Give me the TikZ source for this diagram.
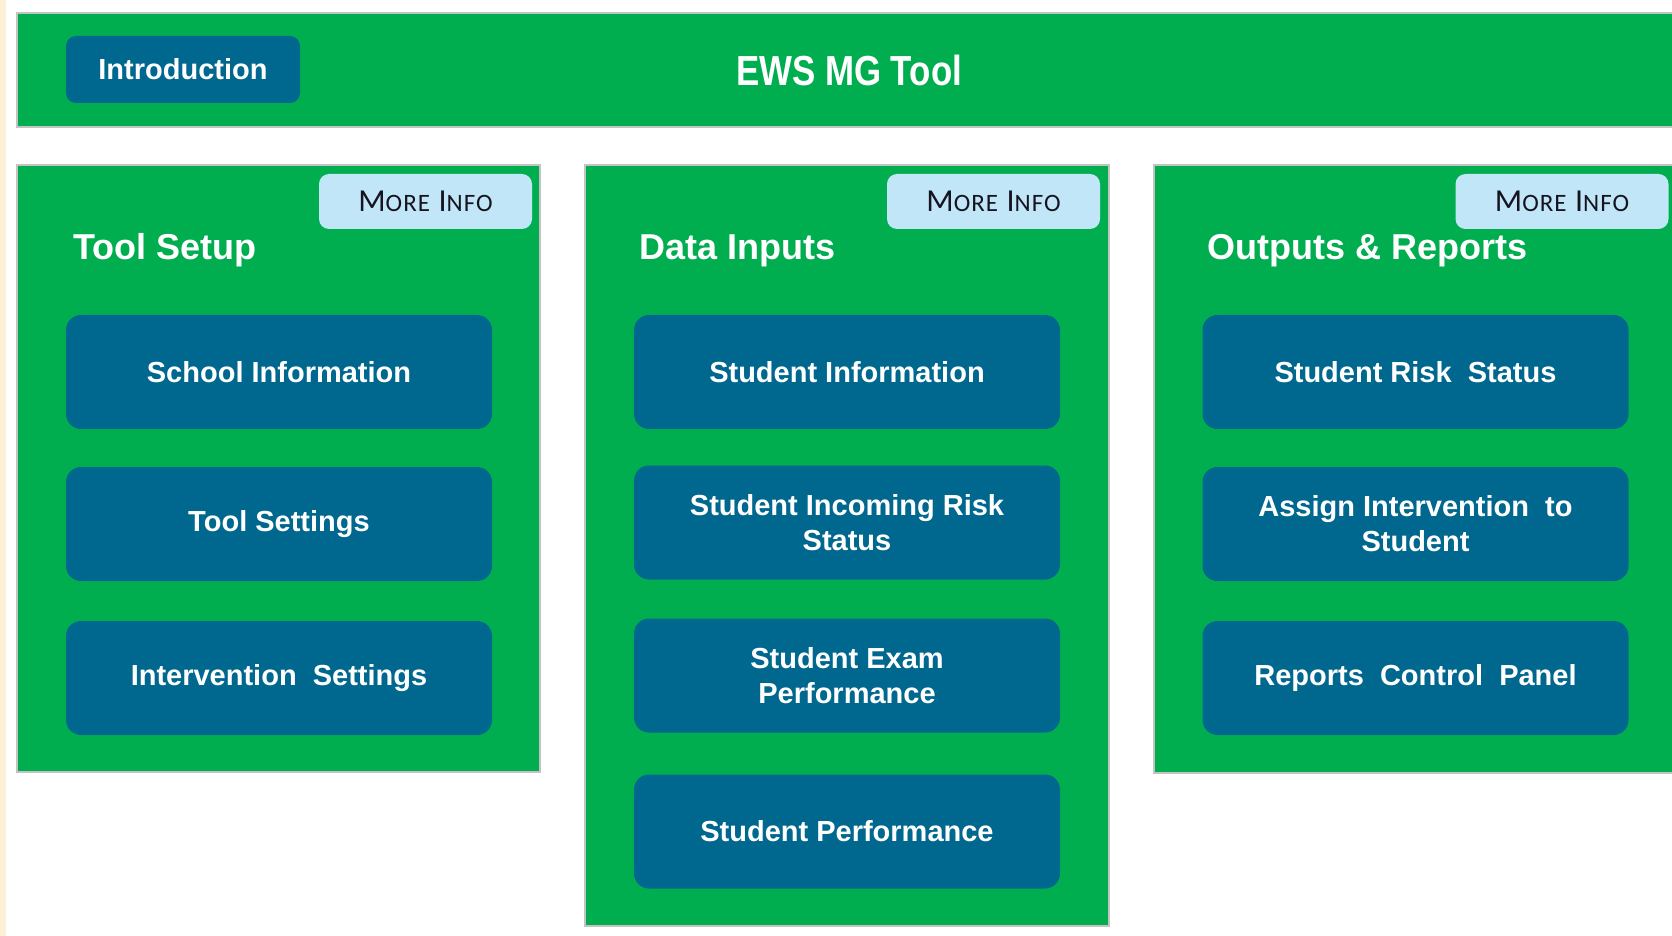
\documentclass[tikz,border=0pt]{standalone}
\usepackage{fontspec}
\setmainfont{Liberation Sans}
\newfontfamily\narrowfont[FakeStretch=0.83]{Liberation Sans}
\newfontfamily\infofont[LetterSpace=4]{Carlito}
\definecolor{ewsgreen}{RGB}{0,174,80}
\definecolor{ewsblue}{RGB}{0,104,143}
\definecolor{infoblue}{RGB}{192,230,248}
\definecolor{infotext}{RGB}{22,20,32}
\definecolor{edgegray}{RGB}{195,195,195}
\definecolor{cream}{RGB}{253,240,215}
\newcommand{\moreinfo}{\infofont\fontsize{16}{18}\selectfont M\fontsize{12.5}{14}\selectfont ORE\fontsize{16}{18}\selectfont\ I\fontsize{12.5}{14}\selectfont NFO}

\begin{document}
\begin{tikzpicture}[x=0.5pt, y=-0.5pt]
    \tikzstyle{panel}=[rectangle, fill=ewsgreen, draw=edgegray, line width=0.6pt, inner sep=0pt]
    \tikzstyle{btn}=[rectangle, rounded corners=7.5pt, fill=ewsblue, text=white, align=center, font=\fontsize{14.5}{17.5}\selectfont\bfseries, minimum width=213pt, minimum height=57pt, inner sep=0pt]
    \tikzstyle{info}=[rectangle, rounded corners=5pt, fill=infoblue, text=infotext, minimum width=106.5pt, minimum height=27.5pt, inner sep=0pt]
    \tikzstyle{head}=[anchor=base west, text=white, font=\fontsize{18}{21}\selectfont\bfseries, inner sep=0pt]

    \useasboundingbox (0,0) rectangle (1672,936);
    \clip (0,0) rectangle (1672,936);
    \fill[cream] (0,0) rectangle (6,936);

    % banner
    \node[panel, minimum width=831.5pt, minimum height=57pt] (bar) at (848.5,70) {};
    \node[btn, minimum width=117pt, minimum height=33.5pt, rounded corners=5pt] (intro) at (183,69.5) {Introduction};
    \node[text=white, font=\narrowfont\bfseries\fontsize{21}{25}\selectfont] (title) at (849,70) {EWS MG Tool};

    % the three panels
    \node[panel, minimum width=261.5pt, minimum height=303.5pt] (p1) at (278.5,468.5) {};
    \node[panel, minimum width=262pt, minimum height=380.5pt] (p2) at (847,545.5) {};
    \node[panel, minimum width=263pt, minimum height=304pt] (p3) at (1417,469) {};

    \node[info] (m1) at (425.5,201.5) {\moreinfo};
    \node[info] (m2) at (993.5,201.5) {\moreinfo};
    \node[info] (m3) at (1562,201.5) {\moreinfo};

    \node[head] (h1) at (73,260) {Tool Setup};
    \node[head] (h2) at (639,260) {Data Inputs};
    \node[head] (h3) at (1207,260) {Outputs \& Reports};

    \node[btn] (b11) at (279,372) {School Information};
    \node[btn] (b12) at (279,524) {Tool Settings};
    \node[btn] (b13) at (279,678) {Intervention\ \ Settings};

    \node[btn] (b21) at (847,372) {Student Information};
    \node[btn] (b22) at (847,522.5) {Student Incoming Risk\\Status};
    \node[btn] (b23) at (847,675.5) {Student Exam\\Performance};
    \node[btn] (b24) at (847,831.5) {Student Performance};

    \node[btn] (b31) at (1415.5,372) {Student Risk\ \ Status};
    \node[btn] (b32) at (1415.5,524) {Assign Intervention\ \ to\\Student};
    \node[btn] (b33) at (1415.5,678) {Reports\ \ Control\ \ Panel};

\end{tikzpicture}
\end{document}
